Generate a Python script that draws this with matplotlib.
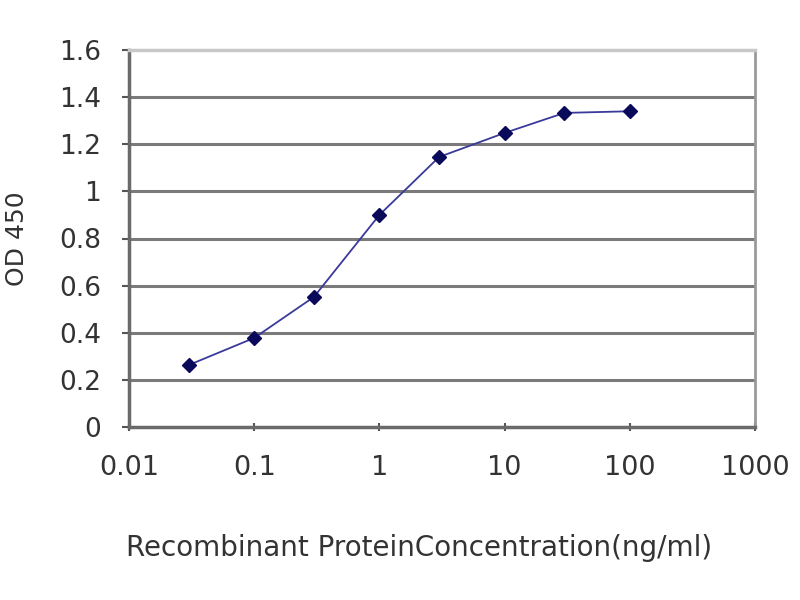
import matplotlib
matplotlib.use("Agg")
import matplotlib.pyplot as plt
from matplotlib.ticker import FixedLocator, FixedFormatter, NullLocator

concentration = [0.03, 0.1, 0.3, 1, 3, 10, 30, 100]
od450 = [0.263, 0.378, 0.552, 0.90, 1.146, 1.248, 1.333, 1.34]
x_ticks = [0.01, 0.1, 1, 10, 100, 1000]
x_ticklabels = ["0.01", "0.1", "1", "10", "100", "1000"]
y_ticks = [0, 0.2, 0.4, 0.6, 0.8, 1.0, 1.2, 1.4, 1.6]
y_ticklabels = ["0", "0.2", "0.4", "0.6", "0.8", "1", "1.2", "1.4", "1.6"]

plt.rcParams['font.family'] = ['DejaVu Sans']
fig = plt.figure(figsize=(8, 6), dpi=100)
ax = fig.add_axes([129/800, 1 - 427/600, (755-129)/800, (427-50)/600])

ax.set_xscale('log')
ax.set_xlim(0.01, 1000)
ax.set_ylim(0, 1.6)

for yv in y_ticks[1:-1]:
    ax.axhline(yv, color='#7a7a7a', lw=2.2, zorder=1)

ax.plot(concentration, od450, color='#3a3a9a', lw=1.3, zorder=3)
ax.plot(concentration, od450, linestyle='none', marker='D', ms=7.5,
        color='#0a0a5a', zorder=4)

ax.xaxis.set_major_locator(FixedLocator(x_ticks))
ax.xaxis.set_major_formatter(FixedFormatter(x_ticklabels))
ax.xaxis.set_minor_locator(NullLocator())
ax.yaxis.set_major_locator(FixedLocator(y_ticks))
ax.yaxis.set_major_formatter(FixedFormatter(y_ticklabels))

ax.tick_params(axis='x', direction='inout', length=6, width=1.5, color='#555555',
               labelsize=19.5, labelcolor='#333333', pad=17)
ax.tick_params(axis='y', direction='out', length=5, width=1.5, color='#555555',
               labelsize=19, labelcolor='#333333', pad=15)

ax.spines['left'].set_color('#6a6a6a')
ax.spines['left'].set_linewidth(2.5)
ax.spines['bottom'].set_color('#6a6a6a')
ax.spines['bottom'].set_linewidth(2.5)
ax.spines['top'].set_color('#c8c8c8')
ax.spines['top'].set_linewidth(2.5)
ax.spines['right'].set_color('#9a9a9a')
ax.spines['right'].set_linewidth(2)

ax.set_xlabel('Recombinant ProteinConcentration(ng/ml)', fontsize=20,
              color='#333333')
ax.xaxis.set_label_coords(0.463, -0.285)
ax.set_ylabel('OD 450', fontsize=18, color='#333333')
ax.yaxis.set_label_coords(-0.16, 0.5)

fig.savefig('out.png', dpi=100)
